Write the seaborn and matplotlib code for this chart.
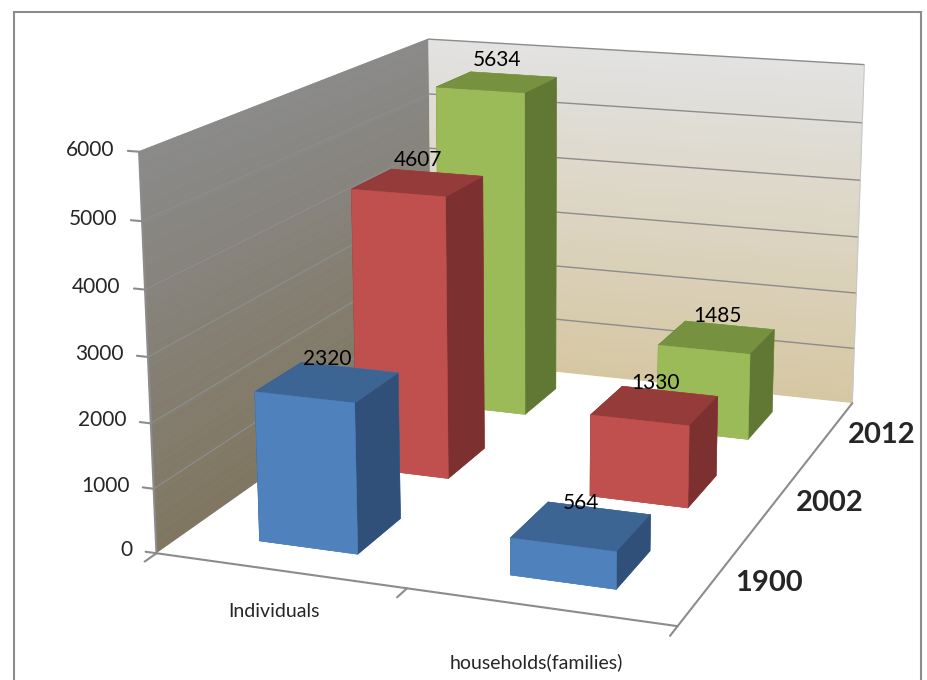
import numpy as np
import pandas as pd
import matplotlib
matplotlib.use("Agg")
import matplotlib.pyplot as plt
import seaborn as sns
from matplotlib.colors import to_rgb
from matplotlib.patches import Rectangle
from mpl_toolkits.mplot3d.art3d import Poly3DCollection

# données du graphique
categories = ["Individuals", "households(families)"]
years = ["1900", "2002", "2012"]
values_1900 = [2320, 564]
values_2002 = [4607, 1330]
values_2012 = [5634, 1485]
z_ticks = [0, 1000, 2000, 3000, 4000, 5000, 6000]

df = pd.DataFrame({
    "category": categories * 3,
    "year": [y for y in years for _ in categories],
    "value": values_1900 + values_2002 + values_2012,
})
df["xi"] = df["category"].map({c: i for i, c in enumerate(categories)})
df["yi"] = df["year"].map({y: i for i, y in enumerate(years)})

# couleurs (face avant, dessus, côté)
palette = {
    "1900": ("#4F81BD", "#3D6594", "#30507A"),
    "2002": ("#C0504D", "#953B39", "#7C3130"),
    "2012": ("#9BBB59", "#76913F", "#607834"),
}
edge_grey = "#8c8c8c"

sns.set_theme(style="white")
plt.rcParams["font.family"] = ["Liberation Sans Narrow", "Lato", "DejaVu Sans"]

fig = plt.figure(figsize=(9.27, 6.8), dpi=100)
fig.patches.append(Rectangle((14 / 927, -0.05), 907 / 927, 1.05 - 12 / 680,
                             transform=fig.transFigure, fill=False,
                             edgecolor=edge_grey, linewidth=1.5))

# axes plus grand que la figure : la vue 3D carrée ne coupe plus rien
ax = fig.add_axes([-0.14, -0.353, 1.4, 1.8], projection="3d", computed_zorder=False)
ax.set_proj_type("persp", focal_length=0.366)
ax.view_init(elev=15, azim=-70)
nx, ny, zmax = len(categories), len(years), z_ticks[-1]
ax.set_xlim(0, nx)
ax.set_ylim(0, ny)
ax.set_zlim(0, zmax)
ax.set_box_aspect((1.5, 2.0, 1.13), zoom=0.732)
ax.set_axis_off()


def gradient_wall(corners_fn, top, bottom, n=40):
    polys, cols = [], []
    top, bottom = np.array(to_rgb(top)), np.array(to_rgb(bottom))
    levels = np.linspace(0, zmax, n + 1)
    for k in range(n):
        polys.append(corners_fn(levels[k], levels[k + 1]))
        t = (levels[k] + levels[k + 1]) / 2 / zmax
        cols.append(bottom + (top - bottom) * t)
    coll = Poly3DCollection(polys, facecolors=cols, edgecolors=cols, linewidths=0.5)
    coll.set_zorder(0)
    ax.add_collection3d(coll)


# mur gauche (x = 0) et mur du fond (y = ny)
gradient_wall(lambda z0, z1: [(0, 0, z0), (0, ny, z0), (0, ny, z1), (0, 0, z1)],
              "#8a8a8a", "#807660")
gradient_wall(lambda z0, z1: [(0, ny, z0), (nx, ny, z0), (nx, ny, z1), (0, ny, z1)],
              "#e2e2e2", "#d6c7a2")

floor = Poly3DCollection([[(0, 0, 0), (nx, 0, 0), (nx, ny, 0), (0, ny, 0)]],
                         facecolors="white", edgecolors="none")
floor.set_zorder(0.5)
ax.add_collection3d(floor)

# lignes de grille sur les murs
for z in z_ticks[1:]:
    ax.plot([0, 0, nx], [0, ny, ny], [z, z, z], color=edge_grey, lw=1.0, zorder=1)

# arêtes des axes
ax.plot([0, 0], [0, 0], [0, zmax], color=edge_grey, lw=1.5, zorder=2)
ax.plot([0, nx, nx], [0, 0, ny], [0, 0, 0], color=edge_grey, lw=1.5, zorder=2)
ax.plot([nx, nx], [ny, ny], [0, zmax], color="#c8c8c8", lw=0.8, zorder=1)

# graduations
for z in z_ticks:
    ax.plot([-0.045, 0.0], [0.0, 0.0], [z, z], color=edge_grey, lw=1.5, zorder=2)
    ax.text(-0.1, 0, z, str(z), ha="right", va="center", fontsize=15, zorder=5)
for xt in range(nx + 1):
    ax.plot([xt, xt], [0, -0.1], [0, 0], color=edge_grey, lw=1.5, zorder=2)

# barres
w, d = 0.4, 0.45
xs = df["xi"].to_numpy() + 0.5 - w / 2
ys = df["yi"].to_numpy() + 0.5 - d / 2
face_colors = []
for yr in df["year"]:
    front, top, side = palette[yr]
    # ordre des faces : -z, +z, -y, +y, -x, +x
    face_colors += [front, top, front, front, side, side]
ax.bar3d(xs, ys, np.zeros(len(df)), w, d, df["value"].to_numpy(),
         color=face_colors, edgecolors=face_colors, linewidths=0.4,
         shade=False, zorder=3)

# étiquettes de valeurs
for _, row in df.iterrows():
    ax.text(row["xi"] + 0.5, row["yi"] + 0.5, row["value"] + 200,
            f"{row['value']}", ha="center", va="bottom", fontsize=15,
            color="black", zorder=5)

# étiquettes des catégories et des années
for i, cat in enumerate(categories):
    ax.text(i + 0.65, -0.4 - 0.1 * i, 0, cat, ha="center", va="center",
            fontsize=14, zorder=5)
for j, yr in enumerate(years):
    ax.text(nx + 0.08, j + 0.5, 0, yr, ha="left", va="center",
            fontsize=21, fontweight="bold", zorder=5)

plt.savefig("out.png", dpi=100)
